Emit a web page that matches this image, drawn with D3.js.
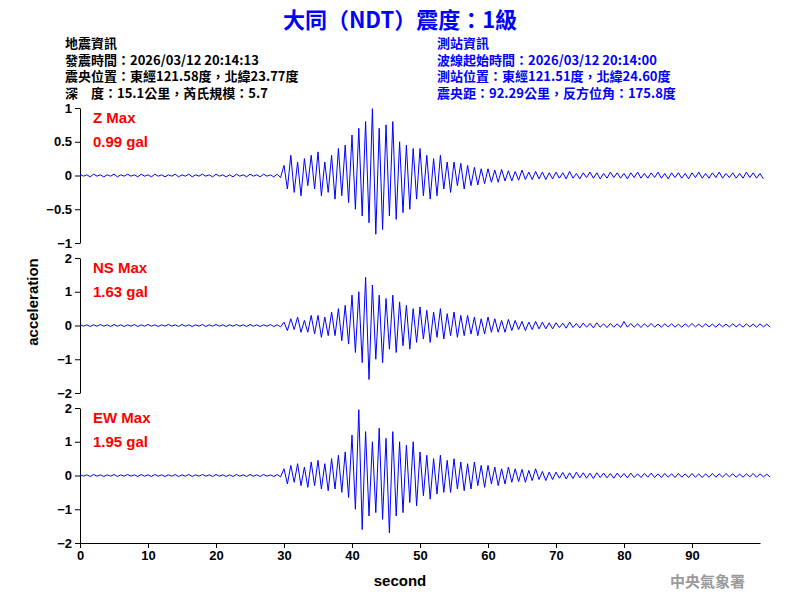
<!DOCTYPE html><html><head><meta charset="utf-8"><script src="https://cdn.jsdelivr.net/npm/d3@7"></script>
<style>body{margin:0;background:#fff}</style></head><body><svg id="c" width="800" height="600"></svg><script>
const dt=0.5;
const zVals=[0.02,-0.01,0.01,-0.02,0.02,-0.01,0.01,-0.02,0.01,-0.01,0.02,-0.02,0.01,-0.01,0.02,-0.01,0.01,-0.02,0.02,-0.01,0.01,-0.02,0.02,-0.01,0.01,-0.02,0.01,-0.01,0.02,-0.02,0.01,-0.01,0.02,-0.02,0.01,-0.01,0.02,-0.01,0.01,-0.02,0.02,-0.01,0.01,-0.02,0.01,-0.02,0.02,-0.01,0.01,-0.02,0.02,-0.01,0.01,-0.02,0.02,-0.01,0.01,-0.02,0.02,-0.03,
0.15,-0.2,0.3,-0.25,0.2,-0.3,0.25,-0.15,0.3,-0.2,0.35,-0.3,0.2,-0.25,0.3,-0.35,0.4,-0.3,0.45,-0.4,
0.6,-0.5,0.7,-0.6,0.8,-0.7,0.99,-0.87,0.7,-0.8,0.75,-0.6,0.8,-0.65,0.5,-0.55,0.45,-0.5,0.4,-0.35,
0.4,-0.3,0.3,-0.35,0.25,-0.3,0.3,-0.2,0.2,-0.25,0.2,-0.15,0.18,-0.2,0.15,-0.15,0.12,-0.14,0.1,-0.12,
0.1,-0.1,0.08,-0.1,0.09,-0.08,0.07,-0.08,0.06,-0.07,0.08,-0.06,0.05,-0.06,0.06,-0.05,0.05,-0.06,0.04,-0.05,
0.05,-0.04,0.04,-0.05,0.06,-0.04,0.03,-0.05,0.04,-0.03,0.05,-0.04,0.04,-0.05,0.03,-0.04,0.05,-0.03,0.04,-0.04,0.03,-0.05,0.04,-0.03,0.05,-0.04,0.03,-0.04,0.04,-0.03,0.05,-0.04,0.03,-0.05,0.04,-0.03,0.04,-0.04,0.03,-0.05,0.04,-0.03,0.05,-0.04,0.03,-0.04,0.04,-0.03,0.05,-0.04,0.03,-0.03,0.04,-0.04,0.03,-0.04,0.05,-0.03,0.04,-0.04,0.03,-0.05];
const nsVals=[0.03,-0.02,0.02,-0.03,0.02,-0.02,0.03,-0.02,0.02,-0.03,0.03,-0.02,0.02,-0.03,0.02,-0.02,0.03,-0.03,0.02,-0.02,0.03,-0.02,0.02,-0.03,0.02,-0.02,0.03,-0.02,0.02,-0.03,0.03,-0.02,0.02,-0.03,0.02,-0.02,0.03,-0.03,0.02,-0.02,0.03,-0.02,0.02,-0.03,0.02,-0.02,0.03,-0.02,0.02,-0.03,0.03,-0.02,0.02,-0.03,0.02,-0.02,0.03,-0.03,0.02,-0.04,
0.1,-0.15,0.2,-0.12,0.25,-0.2,0.15,-0.2,0.3,-0.25,0.3,-0.35,0.25,-0.3,0.4,-0.3,0.5,-0.45,0.6,-0.55,
0.9,-0.8,1.0,-1.1,1.43,-1.6,1.2,-1.0,0.9,-1.1,0.8,-0.7,0.9,-0.8,0.7,-0.6,0.6,-0.7,0.5,-0.5,
0.55,-0.4,0.45,-0.5,0.4,-0.35,0.5,-0.4,0.35,-0.3,0.4,-0.35,0.3,-0.3,0.3,-0.25,0.25,-0.3,0.2,-0.25,
0.25,-0.2,0.2,-0.2,0.15,-0.2,0.18,-0.15,0.15,-0.12,0.12,-0.15,0.1,-0.12,0.12,-0.1,0.1,-0.1,0.08,-0.1,
0.08,-0.06,0.07,-0.08,0.1,-0.06,0.06,-0.07,0.07,-0.05,0.06,-0.07,0.08,-0.05,0.05,-0.06,0.06,-0.05,0.05,-0.06,0.12,-0.05,0.06,-0.05,0.05,-0.06,0.05,-0.04,0.06,-0.05,0.04,-0.05,0.05,-0.04,0.05,-0.05,0.04,-0.05,0.05,-0.04,0.06,-0.04,0.04,-0.05,0.05,-0.04,0.04,-0.05,0.05,-0.04,0.04,-0.04,0.05,-0.04,0.04,-0.05,0.05,-0.04,0.04,-0.05,0.05,-0.04,0.04,-0.05];
const ewVals=[0.03,-0.02,0.02,-0.03,0.03,-0.02,0.02,-0.03,0.02,-0.02,0.03,-0.03,0.02,-0.02,0.03,-0.02,0.02,-0.03,0.03,-0.02,0.02,-0.03,0.03,-0.02,0.02,-0.03,0.02,-0.02,0.03,-0.03,0.02,-0.02,0.03,-0.03,0.02,-0.02,0.03,-0.02,0.02,-0.03,0.03,-0.02,0.02,-0.03,0.02,-0.03,0.03,-0.02,0.02,-0.03,0.03,-0.02,0.02,-0.03,0.03,-0.02,0.02,-0.03,0.03,-0.04,
0.2,-0.25,0.3,-0.2,0.35,-0.3,0.25,-0.35,0.4,-0.3,0.45,-0.4,0.35,-0.45,0.5,-0.4,0.6,-0.5,0.7,-0.65,
1.2,-1.0,1.95,-1.6,1.3,-1.2,1.0,-1.1,1.4,-1.3,1.1,-1.7,1.3,-1.2,1.0,-1.1,0.9,-0.8,1.0,-0.9,
0.7,-0.6,0.6,-0.7,0.5,-0.55,0.6,-0.5,0.45,-0.5,0.5,-0.4,0.4,-0.45,0.35,-0.4,0.4,-0.3,0.3,-0.35,
0.3,-0.25,0.25,-0.3,0.2,-0.25,0.25,-0.2,0.2,-0.18,0.18,-0.2,0.15,-0.15,0.2,-0.12,0.12,-0.15,0.1,-0.12,
0.1,-0.08,0.09,-0.1,0.08,-0.09,0.1,-0.07,0.08,-0.08,0.07,-0.09,0.08,-0.06,0.07,-0.07,0.06,-0.08,0.07,-0.06,0.06,-0.07,0.07,-0.06,0.05,-0.06,0.06,-0.05,0.07,-0.06,0.05,-0.06,0.06,-0.05,0.05,-0.06,0.06,-0.05,0.05,-0.06,0.06,-0.05,0.05,-0.06,0.05,-0.05,0.06,-0.05,0.05,-0.05,0.06,-0.04,0.05,-0.05,0.04,-0.05,0.05,-0.04,0.06,-0.05,0.05,-0.04,0.04,-0.05];
const panels=[{name:"Z Max",max:"0.99 gal",vals:zVals,lim:1,ticks:[-1,-0.5,0,0.5,1],top:108},
{name:"NS Max",max:"1.63 gal",vals:nsVals,lim:2,ticks:[-2,-1,0,1,2],top:258},
{name:"EW Max",max:"1.95 gal",vals:ewVals,lim:2,ticks:[-2,-1,0,1,2],top:408}];
const xTicks=[0,10,20,30,40,50,60,70,80,90];
const leftInfo=["地震資訊","發震時間：2026/03/12 20:14:13","震央位置：東經121.58度，北緯23.77度","深　度：15.1公里，芮氏規模：5.7"];
const rightInfo=["測站資訊","波線起始時間：2026/03/12 20:14:00","測站位置：東經121.51度，北緯24.60度","震央距：92.29公里，反方位角：175.8度"];
const svg=d3.select("#c");
const ff="Arial, 'Liberation Sans', sans-serif", cjk="'Noto Sans CJK TC', sans-serif";
svg.append("text").attr("x",400).attr("y",28).attr("text-anchor","middle").attr("fill","#0000ff").attr("font-family",cjk).attr("font-weight","bold").attr("font-size",22).text("大同（NDT）震度：1級");
leftInfo.forEach((t,i)=>svg.append("text").attr("x",65).attr("y",48+i*16.5).attr("font-family",cjk).attr("font-weight","bold").attr("font-size",13).attr("fill","#000").text(t));
rightInfo.forEach((t,i)=>svg.append("text").attr("x",437).attr("y",48+i*16.5).attr("font-family",cjk).attr("font-weight","bold").attr("font-size",13).attr("fill","#0000ff").text(t));
const x=d3.scaleLinear().domain([0,100]).range([80,760]);
panels.forEach(p=>{
 const y=d3.scaleLinear().domain([-p.lim,p.lim]).range([p.top+135,p.top]);
 const g=svg.append("g").attr("transform","translate(80,0)").call(d3.axisLeft(y).tickValues(p.ticks).tickSize(5).tickSizeOuter(0).tickFormat(d3.format("")));
 g.selectAll("text").attr("font-family",ff).attr("font-weight","bold").attr("font-size",13);
 const line=d3.line().x((d,i)=>x(i*dt)).y(d=>y(d));
 svg.append("path").datum(p.vals).attr("d",line).attr("fill","none").attr("stroke","#0000ff").attr("stroke-width",1);
 svg.append("text").attr("x",93).attr("y",p.top+15).attr("fill","#ff0000").attr("font-family",ff).attr("font-weight","bold").attr("font-size",15).text(p.name);
 svg.append("text").attr("x",93).attr("y",p.top+39).attr("fill","#ff0000").attr("font-family",ff).attr("font-weight","bold").attr("font-size",15).text(p.max);
});
const gx=svg.append("g").attr("transform","translate(0,543)").call(d3.axisBottom(x).tickValues(xTicks).tickSize(5).tickSizeOuter(0));
gx.selectAll("text").attr("font-family",ff).attr("font-weight","bold").attr("font-size",13);
svg.append("text").attr("x",400).attr("y",586).attr("text-anchor","middle").attr("font-family",ff).attr("font-weight","bold").attr("font-size",15).text("second");
svg.append("text").attr("transform","translate(38,302) rotate(-90)").attr("text-anchor","middle").attr("font-family",ff).attr("font-weight","bold").attr("font-size",15).text("acceleration");
svg.append("text").attr("x",745).attr("y",587).attr("text-anchor","end").attr("fill","#999").attr("font-family",cjk).attr("font-weight","bold").attr("font-size",15).text("中央氣象署");
</script></body></html>
